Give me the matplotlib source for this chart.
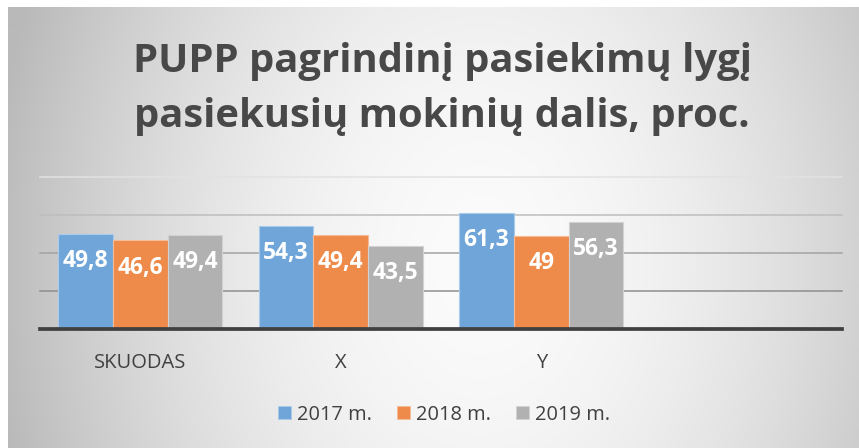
import matplotlib
matplotlib.use("Agg")
import matplotlib.pyplot as plt
import numpy as np

# data
categories = ["SKUODAS", "X", "Y", ""]
years = ["2017 m.", "2018 m.", "2019 m."]
v2017 = [49.8, 54.3, 61.3]
v2018 = [46.6, 49.4, 49.0]
v2019 = [49.4, 43.5, 56.3]
title_lines = ["PUPP pagrindinį pasiekimų lygį", "pasiekusių mokinių dalis, proc."]

COLORS = ["#6fa5d9", "#ef8b4a", "#b1b1b1"]
EDGES = ["#a9caea", "#f6bb95", "#d2d2d2"]
W, H, DPI = 859, 448, 100

plt.rcParams["font.family"] = ["Open Sans", "DejaVu Sans"]
fig = plt.figure(figsize=(W / DPI, H / DPI), dpi=DPI)
fig.patch.set_facecolor("white")

# radial grey background of the chart area
bx0, by0 = 8, 7
bw, bh = W - bx0, H - by0
bg = fig.add_axes([bx0 / W, 0, bw / W, bh / H], zorder=0)
yy, xx = np.mgrid[0:bh, 0:bw]
r = np.sqrt(((xx - (480 - bx0)) / 450.0) ** 2 + ((yy - (260 - by0)) / 600.0) ** 2)
val = np.clip(251 - 56 * r ** 1.8, 185, 251) / 255.0
bg.imshow(np.dstack([val, val, val]), aspect="auto", interpolation="bilinear")
bg.axis("off")

# plot area
x0, x1, ytop, ybot = 40, 842, 177, 329
ax = fig.add_axes([x0 / W, 1 - ybot / H, (x1 - x0) / W, (ybot - ytop) / H], zorder=1)
ax.set_facecolor("none")
ax.set_xlim(-0.5, len(categories) - 0.5)
ax.set_ylim(0, 80)

for yv, c in zip([20, 40, 60, 80], ["#8e8e8e", "#a3a3a3", "#bdbdbd", "#e2e2e2"]):
    ax.axhline(yv, color=c, lw=1.1, zorder=1, clip_on=False)

bw_ = 0.273
xs = np.arange(3)
for i, (vals, col, ec, lab) in enumerate(zip([v2017, v2018, v2019], COLORS, EDGES, years)):
    pos = xs + (i - 1) * bw_
    bars = ax.bar(pos, vals, width=bw_, color=col, edgecolor=ec, linewidth=0.8,
                  label=lab, zorder=2)
    for b, v in zip(bars, vals):
        ax.annotate(f"{v:g}".replace(".", ","), (b.get_x() + b.get_width() / 2, v),
                    xytext=(0, -19.5), textcoords="offset points", ha="center",
                    va="center", color="white", fontsize=16.5, fontweight="bold", zorder=4)

ax.axhline(0, color="#404040", lw=2.7, zorder=3, clip_on=False)

ax.set_xticks(range(len(categories)))
ax.set_xticklabels(categories, fontsize=14.5, color="#404040")
ax.tick_params(axis="x", length=0, pad=17)
ax.set_yticks([])
for s in ax.spines.values():
    s.set_visible(False)

# title
for line, yb in zip(title_lines, [72, 127]):
    fig.text(442 / W, 1 - yb / H, line, ha="center", va="baseline", fontsize=28.8,
             fontweight="bold", color="#484848", zorder=5)

handles, labels = ax.get_legend_handles_labels()
leg = fig.legend(handles, labels, loc="center", bbox_to_anchor=(444 / W, 1 - 414.5 / H),
                 ncol=3, frameon=False, fontsize=14.4, handlelength=0.65, handleheight=0.65,
                 handletextpad=0.3, columnspacing=1.25, labelcolor="#404040")
for h in leg.legend_handles:
    h.set_linewidth(0.6)

fig.savefig("out.png", dpi=DPI)
